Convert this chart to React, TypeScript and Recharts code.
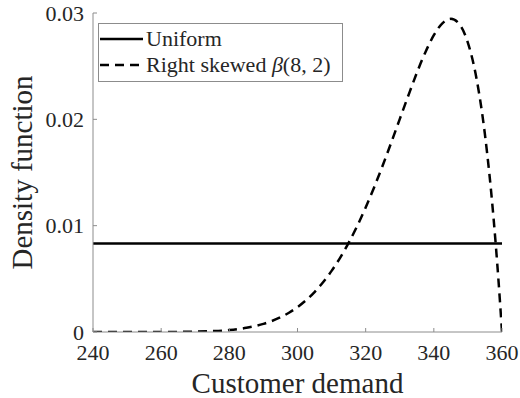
import { LineChart, Line, XAxis, YAxis, Legend } from "recharts"

const demandX = [
  240, 245, 250, 255, 260, 265, 270, 275, 280, 285, 290, 295, 297.5, 300, 302.5, 305, 307.5, 310, 312.5,
  315, 317.5, 320, 322.5, 325, 327.5, 330, 332.5, 335, 337.5, 340, 342.5, 345, 347.5, 350, 352.5, 355,
  357.5, 359, 360,
]
const betaDensity = [
  0, 0, 0, 0, 0, 0.00001, 0.00003, 0.00008, 0.00018, 0.00039, 0.00076, 0.00138, 0.00181, 0.00234, 0.00299,
  0.00376, 0.00468, 0.00575, 0.00698, 0.00838, 0.00996, 0.01171, 0.01362, 0.01566, 0.01781, 0.02002,
  0.02222, 0.02436, 0.02629, 0.02791, 0.02903, 0.02945, 0.02894, 0.0272, 0.02387, 0.01856, 0.01079,
  0.00472, 0,
]
const uniformX = [240, 360]
const uniformDensity = [0.00833, 0.00833]

const seriesNames = ["Uniform", "Right skewed β(8, 2)"]
const xTicks = [240, 260, 280, 300, 320, 340, 360]
const yTicks = [0, 0.01, 0.02, 0.03]

const betaData = demandX.map((x, i) => ({ x, beta: betaDensity[i] }))
const uniformData = uniformX.map((x, i) => ({ x, uniform: uniformDensity[i] }))

const FONT = "Liberation Serif"
const TEXT = "#262626"
const AXIS = "#8c8c8c"

function XTick({ x, y, payload }: any) {
  return (
    <text x={x} y={y} dy={15.6} textAnchor="middle" fontSize={22} fill={TEXT} fontFamily={FONT}>
      {payload.value}
    </text>
  )
}

function YTick({ x, y, payload }: any) {
  return (
    <text x={x} y={y} dy={7.5} textAnchor="end" fontSize={22} fill={TEXT} fontFamily={FONT}>
      {payload.value}
    </text>
  )
}

function LegendBox({ payload }: any) {
  const items = [...(payload || [])].sort(
    (a: any, b: any) => seriesNames.indexOf(a.value) - seriesNames.indexOf(b.value)
  )
  return (
    <div
      style={{
        width: 245,
        height: 59,
        boxSizing: "border-box",
        border: `1px solid ${AXIS}`,
        background: "#fff",
        paddingTop: 2,
        fontFamily: FONT,
        fontSize: 22,
        color: TEXT,
      }}
    >
      {items.map((entry: any) => {
        const parts = String(entry.value).split("β")
        return (
          <div key={entry.value} style={{ display: "flex", alignItems: "center", height: 26, lineHeight: "26px" }}>
            <svg width={43} height={4} style={{ marginLeft: 1, flex: "none" }}>
              <line
                x1={0}
                y1={2}
                x2={43}
                y2={2}
                stroke="#000"
                strokeWidth={2.5}
                strokeDasharray={entry.payload?.strokeDasharray}
              />
            </svg>
            <span style={{ marginLeft: 3, whiteSpace: "nowrap" }}>
              {parts[0]}
              {parts.length > 1 && <span style={{ fontStyle: "italic" }}>β</span>}
              {parts.length > 1 && parts[1]}
            </span>
          </div>
        )
      })}
    </div>
  )
}

export default function App() {
  return (
    <div style={{ position: "absolute", left: 0, top: 0, background: "#fff" }}>
      <LineChart width={520} height={398} margin={{ top: 13, right: 18, left: 0, bottom: 0 }}>
        <XAxis
          xAxisId="bottom"
          dataKey="x"
          type="number"
          domain={[240, 360]}
          ticks={xTicks}
          allowDataOverflow
          height={66}
          tickSize={-4}
          tickMargin={16}
          stroke={AXIS}
          tick={<XTick />}
          label={{
            content: ({ viewBox }: any) => (
              <text
                x={viewBox.x + viewBox.width / 2}
                y={viewBox.y + 61}
                textAnchor="middle"
                fontSize={29}
                fill={TEXT}
                fontFamily={FONT}
              >
                Customer demand
              </text>
            ),
          }}
        />
        <XAxis
          xAxisId="top"
          orientation="top"
          dataKey="x"
          type="number"
          domain={[240, 360]}
          ticks={xTicks}
          allowDataOverflow
          height={0}
          tickSize={-4}
          stroke={AXIS}
          tick={false}
        />
        <YAxis
          yAxisId="left"
          type="number"
          domain={[0, 0.03]}
          ticks={yTicks}
          allowDataOverflow
          width={93}
          tickSize={-4}
          tickMargin={13}
          stroke={AXIS}
          tick={<YTick />}
          label={{
            content: ({ viewBox }: any) => (
              <text
                transform={`translate(32, ${viewBox.y + viewBox.height / 2}) rotate(-90)`}
                textAnchor="middle"
                fontSize={29}
                fill={TEXT}
                fontFamily={FONT}
              >
                Density function
              </text>
            ),
          }}
        />
        <YAxis
          yAxisId="right"
          orientation="right"
          type="number"
          domain={[0, 0.03]}
          ticks={yTicks}
          allowDataOverflow
          width={0}
          tickSize={-4}
          stroke={AXIS}
          tick={false}
        />
        <Legend
          layout="vertical"
          align="center"
          verticalAlign="middle"
          wrapperStyle={{ left: 98, top: 23, width: 245 }}
          content={<LegendBox />}
        />
        <Line
          xAxisId="bottom"
          yAxisId="left"
          data={uniformData}
          dataKey="uniform"
          name={seriesNames[0]}
          type="linear"
          stroke="#000"
          strokeWidth={2.5}
          dot={false}
          activeDot={false}
          isAnimationActive={false}
        />
        <Line
          xAxisId="bottom"
          yAxisId="left"
          data={betaData}
          dataKey="beta"
          name={seriesNames[1]}
          type="monotone"
          stroke="#000"
          strokeWidth={2.5}
          strokeDasharray="9 6"
          dot={false}
          activeDot={false}
          isAnimationActive={false}
        />
      </LineChart>
    </div>
  )
}
